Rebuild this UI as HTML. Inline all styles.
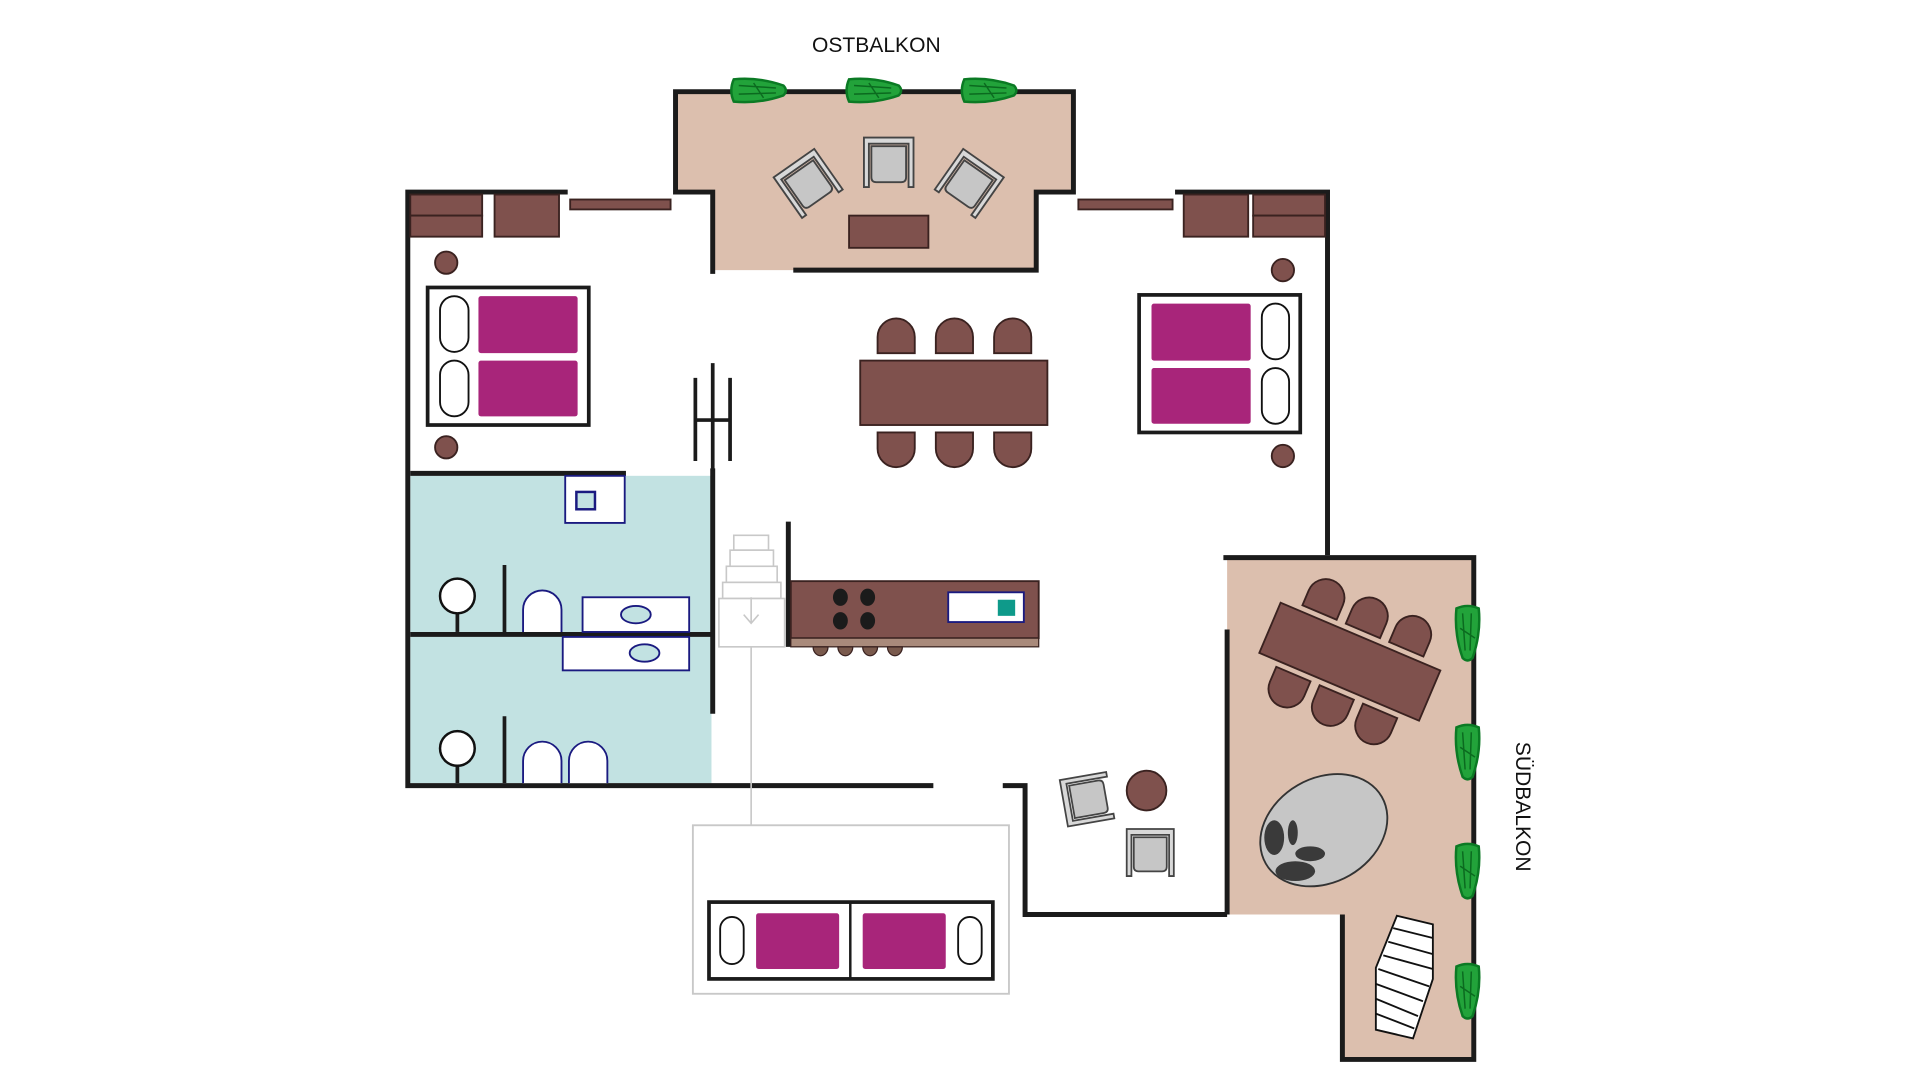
<!DOCTYPE html>
<html><head><meta charset="utf-8"><style>
html,body{margin:0;padding:0;background:#fff;}
svg{display:block;}
text{font-family:"Liberation Sans",sans-serif;}
</style></head><body>
<svg width="1920" height="1083" viewBox="0 0 1549 874" preserveAspectRatio="none" xmlns="http://www.w3.org/2000/svg">
<defs>
<g id="chairU"><path d="M-15,13 L-15,0 A15,15 0 0 1 15,0 L15,13 Z" fill="#7f514d" stroke="#3a2220" stroke-width="1.5"/></g>
<g id="gchair">
<path d="M-20,20 L-20,-20 L20,-20 L20,20 L16,20 L16,-15 L-16,-15 L-16,20 Z" fill="#d8d8d8" stroke="#444" stroke-width="1.5"/>
<path d="M-14,-13 L14,-13 L14,12 Q14,16 10,16 L-10,16 Q-14,16 -14,12 Z" fill="#c6c6c6" stroke="#444" stroke-width="1.5"/>
</g>
<g id="plantV"><path d="M-9,-20 Q0,-24 9,-20 Q11,0 4,20 Q0,24 -4,20 Q-11,0 -9,-20Z" fill="#22a33a" stroke="#0b7a24" stroke-width="2"/><path d="M-4,-16 L-2,14 M3,-16 L2,14 M-6,-4 L6,4" stroke="#0b6a1f" stroke-width="1.2" fill="none"/></g>
<g id="plantH"><path d="M-20,-9 Q-24,0 -20,9 Q0,11 20,4 Q24,0 20,-4 Q0,-11 -20,-9Z" fill="#22a33a" stroke="#0b7a24" stroke-width="2"/><path d="M-16,-4 L14,-2 M-16,3 L14,2 M-4,-6 L4,6" stroke="#0b6a1f" stroke-width="1.2" fill="none"/></g>
</defs>

<!-- East balcony -->
<text x="707" y="42" font-size="17" text-anchor="middle" fill="#111">OSTBALKON</text>
<path d="M545,74 L866,74 L866,155 L836,155 L836,218 L575,218 L575,155 L545,155 Z" fill="#dcbfae"/>
<path d="M575,221 L575,155 L545,155 L545,74 L866,74 L866,155 L836,155 L836,218 L640,218" fill="none" stroke="#1b1b1b" stroke-width="4"/>
<use href="#plantH" x="612" y="73"/><use href="#plantH" x="705" y="73"/><use href="#plantH" x="798" y="73"/>
<rect x="685" y="174" width="64" height="26" fill="#7f514d" stroke="#3a2220" stroke-width="1.5"/>
<use href="#gchair" transform="translate(717,131)"/>
<use href="#gchair" transform="translate(652,148) rotate(-35)"/>
<use href="#gchair" transform="translate(782,148) rotate(35)"/>

<!-- south balcony fill -->
<path d="M990,450 L1188,450 L1188,855 L1083,855 L1083,738 L990,738 Z" fill="#dcbfae"/>
<!-- bathroom fill -->
<rect x="331" y="384" width="243" height="248" fill="#c2e2e2"/>

<!-- walls -->
<g fill="none" stroke="#1b1b1b" stroke-width="4">
<path d="M458,155 L329,155 L329,634 L753,634"/>
<path d="M948,155 L1071,155 L1071,448"/>
<path d="M809,634 L827,634 L827,738 L990,738"/>
<path d="M987,450 L1189,450 L1189,855 L1083,855 L1083,738"/>
<path d="M990,508 L990,738"/>
<path d="M331,382 L505,382"/>
<path d="M331,512 L575,512"/>
<path d="M575,378 L575,576"/>
<path d="M636,421 L636,522"/>
</g>
<g stroke="#1b1b1b" stroke-width="3">
<line x1="407" y1="456" x2="407" y2="510"/><line x1="407" y1="578" x2="407" y2="632"/>
<line x1="575" y1="293" x2="575" y2="380"/><line x1="561" y1="305" x2="561" y2="372"/><line x1="589" y1="305" x2="589" y2="372"/><line x1="561" y1="339" x2="589" y2="339"/>
</g>
<!-- window bars & wardrobes -->
<g fill="#7f514d" stroke="#3a2220" stroke-width="1.5">
<rect x="460" y="161" width="81" height="8"/><rect x="870" y="161" width="76" height="8"/>
<rect x="331" y="157" width="58" height="17"/><rect x="331" y="174" width="58" height="17"/><rect x="399" y="157" width="52" height="34"/>
<rect x="955" y="157" width="52" height="34"/><rect x="1011" y="157" width="58" height="17"/><rect x="1011" y="174" width="58" height="17"/>
<circle cx="360" cy="212" r="9"/><circle cx="360" cy="361" r="9"/><circle cx="1035" cy="218" r="9"/><circle cx="1035" cy="368" r="9"/>
</g>
<!-- beds -->
<rect x="345" y="232" width="130" height="111" fill="#fff" stroke="#1b1b1b" stroke-width="3"/>
<rect x="355" y="239" width="23" height="45" rx="11.5" fill="#fff" stroke="#111" stroke-width="1.5"/><rect x="355" y="291" width="23" height="45" rx="11.5" fill="#fff" stroke="#111" stroke-width="1.5"/>
<rect x="386" y="239" width="80" height="46" rx="2" fill="#a8257a"/><rect x="386" y="291" width="80" height="45" rx="2" fill="#a8257a"/>
<rect x="919" y="238" width="130" height="111" fill="#fff" stroke="#1b1b1b" stroke-width="3"/>
<rect x="1018" y="245" width="22" height="45" rx="11" fill="#fff" stroke="#111" stroke-width="1.5"/><rect x="1018" y="297" width="22" height="45" rx="11" fill="#fff" stroke="#111" stroke-width="1.5"/>
<rect x="929" y="245" width="80" height="46" rx="2" fill="#a8257a"/><rect x="929" y="297" width="80" height="45" rx="2" fill="#a8257a"/>
<!-- dining -->
<use href="#chairU" x="723" y="272"/><use href="#chairU" x="770" y="272"/><use href="#chairU" x="817" y="272"/>
<use href="#chairU" transform="translate(723,362) rotate(180)"/><use href="#chairU" transform="translate(770,362) rotate(180)"/><use href="#chairU" transform="translate(817,362) rotate(180)"/>
<rect x="694" y="291" width="151" height="52" fill="#7f514d" stroke="#3a2220" stroke-width="1.5"/>
<!-- bathroom fixtures -->
<rect x="456" y="384" width="48" height="38" fill="#fff" stroke="#1a1a80" stroke-width="1.5"/><rect x="465" y="397" width="15" height="14" fill="#c2e2e2" stroke="#1a1a80" stroke-width="2"/>
<line x1="369" y1="481" x2="369" y2="510" stroke="#1b1b1b" stroke-width="3"/><circle cx="369" cy="481" r="14" fill="#fff" stroke="#111" stroke-width="2"/>
<line x1="369" y1="604" x2="369" y2="632" stroke="#1b1b1b" stroke-width="3"/><circle cx="369" cy="604" r="14" fill="#fff" stroke="#111" stroke-width="2"/>
<g fill="#fff" stroke="#1a1a80" stroke-width="1.5">
<path d="M422,510 L422,492 A15.5,15.5 0 0 1 453,492 L453,510"/>
<path d="M422,632 L422,614 A15.5,15.5 0 0 1 453,614 L453,632"/>
<path d="M459,632 L459,614 A15.5,15.5 0 0 1 490,614 L490,632"/>
<rect x="470" y="482" width="86" height="28"/><ellipse cx="513" cy="496" rx="12" ry="7" fill="#c2e2e2"/>
<rect x="454" y="514" width="102" height="27"/><ellipse cx="520" cy="527" rx="12" ry="7" fill="#c2e2e2"/>
</g>
<!-- stairs -->
<g fill="#fff" stroke="#c8c8c8" stroke-width="1.3">
<rect x="592" y="432" width="28" height="12"/><rect x="589" y="444" width="35" height="13"/><rect x="586" y="457" width="41" height="13"/><rect x="583" y="470" width="47" height="13"/><rect x="580" y="483" width="53" height="39"/>
<line x1="606" y1="522" x2="606" y2="666"/><path d="M606,482 L606,503 M600,496 L606,503 L612,496" fill="none"/>
</g>
<!-- kitchen -->
<rect x="638" y="469" width="200" height="46" fill="#7f514d" stroke="#3a2220" stroke-width="1.5"/>
<rect x="638" y="515" width="200" height="7" fill="#a98a7b" stroke="#3a2220" stroke-width="1"/>
<g fill="#7a5a4d" stroke="#3a2220" stroke-width="1"><path d="M656,522 a5,6 0 0 0 12,0Z"/><path d="M676,522 a5,6 0 0 0 12,0Z"/><path d="M696,522 a5,6 0 0 0 12,0Z"/><path d="M716,522 a5,6 0 0 0 12,0Z"/></g>
<g fill="#1b1b1b"><ellipse cx="678" cy="482" rx="6" ry="7"/><ellipse cx="700" cy="482" rx="6" ry="7"/><ellipse cx="678" cy="501" rx="6" ry="7"/><ellipse cx="700" cy="501" rx="6" ry="7"/></g>
<rect x="765" y="478" width="61" height="24" fill="#fff" stroke="#1a1a80" stroke-width="1.5"/><rect x="805" y="484" width="14" height="13" fill="#0e9a8a"/>
<!-- gallery -->
<rect x="559" y="666" width="255" height="136" fill="#fff" stroke="#c8c8c8" stroke-width="1.5"/>
<rect x="572" y="728" width="229" height="62" fill="#fff" stroke="#1b1b1b" stroke-width="3"/><line x1="686" y1="728" x2="686" y2="790" stroke="#1b1b1b" stroke-width="2"/>
<rect x="581" y="740" width="19" height="38" rx="9.5" fill="#fff" stroke="#111" stroke-width="1.5"/><rect x="773" y="740" width="19" height="38" rx="9.5" fill="#fff" stroke="#111" stroke-width="1.5"/>
<rect x="610" y="737" width="67" height="45" rx="2" fill="#a8257a"/><rect x="696" y="737" width="67" height="45" rx="2" fill="#a8257a"/>
<!-- living chairs -->
<use href="#gchair" transform="translate(877,645) rotate(-100) scale(0.95)"/>
<use href="#gchair" transform="translate(928,688) scale(0.95)"/>
<ellipse cx="925" cy="638" rx="16" ry="16" fill="#7f514d" stroke="#3a2220" stroke-width="1.5"/>
<!-- south balcony furniture -->
<g transform="translate(1089,534) rotate(23)">
<use href="#chairU" transform="translate(-38,-40)"/><use href="#chairU" transform="translate(0,-40)"/><use href="#chairU" transform="translate(38,-40)"/>
<use href="#chairU" transform="translate(-38,40) rotate(180)"/><use href="#chairU" transform="translate(0,40) rotate(180)"/><use href="#chairU" transform="translate(38,40) rotate(180)"/>
<rect x="-70" y="-22" width="140" height="44" fill="#7f514d" stroke="#3a2220" stroke-width="1.5"/>
</g>
<ellipse cx="1068" cy="670" rx="54" ry="42" transform="rotate(-30 1068 670)" fill="#c6c6c6" stroke="#333" stroke-width="1.5"/>
<g fill="#3a3a3a"><ellipse cx="1028" cy="676" rx="8" ry="14"/><ellipse cx="1043" cy="672" rx="4" ry="10"/><ellipse cx="1057" cy="689" rx="12" ry="6"/><ellipse cx="1045" cy="703" rx="16" ry="8"/></g>
<g fill="#fff" stroke="#111" stroke-width="1.5">
<path d="M1127,739 L1156,746 L1156,790 L1140,838 L1110,831 L1110,781 Z"/>
<path d="M1124,749 L1156,757 M1120,760 L1156,770 M1116,771 L1156,782 M1112,782 L1153,796 M1110,794 L1148,808 M1110,806 L1144,820 M1110,818 L1141,830" fill="none"/>
</g>
<use href="#plantV" x="1184" y="511"/><use href="#plantV" x="1184" y="607"/><use href="#plantV" x="1184" y="703"/><use href="#plantV" x="1184" y="800"/>
<text x="0" y="0" font-size="17" text-anchor="middle" fill="#111" transform="translate(1223,651) rotate(90)">SÜDBALKON</text>
</svg>
</body></html>
